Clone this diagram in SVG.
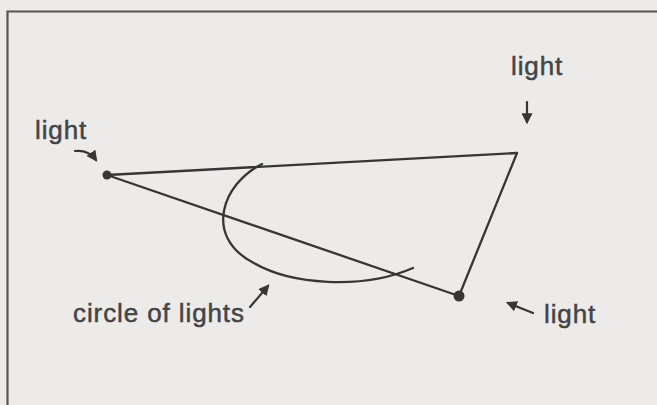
<svg xmlns="http://www.w3.org/2000/svg" width="657" height="405" viewBox="0 0 657 405">
<defs>
<style>
.ln{fill:none;stroke:#363636;stroke-width:2.3;stroke-linecap:round;stroke-linejoin:round}
.ar{fill:none;stroke:#363636;stroke-width:2.2;stroke-linecap:round}
.lbl{font-family:"Liberation Sans",Arial,sans-serif;font-size:26px;fill:#444;stroke:#444;stroke-width:0.5;letter-spacing:0.9px}
.dot{fill:#363636}
</style>
<marker id="ah" viewBox="0 0 10 10" refX="8" refY="5" markerWidth="5" markerHeight="5" orient="auto" markerUnits="strokeWidth">
<path d="M0,0 L10,5 L0,10 Z" fill="#363636"/>
</marker>
</defs>
<rect x="0" y="0" width="657" height="405" fill="#edebea"/>
<path d="M7.5,405 L7.5,11.5 L657,11.5" fill="none" stroke="#555" stroke-width="2.2"/>
<g id="connectors">
<line class="ln" x1="107" y1="175" x2="517" y2="153"/>
<line class="ln" x1="517" y1="153" x2="459" y2="296"/>
<line class="ln" x1="107" y1="175" x2="459" y2="296"/>
<path class="ln" d="M262,164 C222,184 204,236 252,262 C290,285 362,290 413,268"/>
<path class="ar" d="M75,151 C84,150 91,153 96,160" marker-end="url(#ah)"/>
<path class="ar" d="M527,102 L527,122" marker-end="url(#ah)"/>
<path class="ar" d="M533,313 L508,303" marker-end="url(#ah)"/>
<path class="ar" d="M250,307 L268,286" marker-end="url(#ah)"/>
</g>
<g id="light-left">
<circle class="dot" cx="107" cy="175" r="4.5"/>
<text class="lbl" x="35" y="139">light</text>
</g>
<g id="light-top">
<text class="lbl" x="511" y="75">light</text>
</g>
<g id="light-bottom">
<circle class="dot" cx="459" cy="296" r="5.5"/>
<text class="lbl" x="544" y="323">light</text>
</g>
<g id="circle-of-lights">
<text class="lbl" x="73" y="322">circle of lights</text>
</g>
</svg>
